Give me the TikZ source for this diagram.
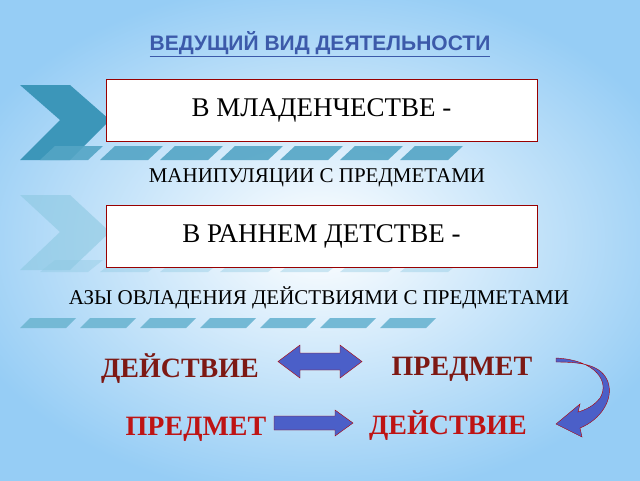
\documentclass[tikz,border=0pt]{standalone}
\usepackage{fontspec}
\setmainfont{Liberation Serif}
\newfontfamily\titlefont{Liberation Sans}
\usetikzlibrary{positioning}
\definecolor{skyblue}{RGB}{150,205,245}
\definecolor{teal1}{RGB}{60,150,185}
\definecolor{teal2}{RGB}{140,200,225}
\definecolor{darkred1}{RGB}{125,25,20}
\definecolor{red1}{RGB}{190,20,20}
\definecolor{arrowblue}{RGB}{75,95,200}
\definecolor{titleblue}{RGB}{60,90,170}

\begin{document}
\begin{tikzpicture}[x=1pt, y=-1pt,
	stagebox/.style={draw=red!60!black, fill=white, minimum width=431pt, minimum height=62pt, font=\fontsize{27}{29}\selectfont},
	phrase/.style={font=\fontsize{21}{23}\selectfont},
	keyword/.style={font=\bfseries\fontsize{28}{30}\selectfont},
	blockarrow/.style={draw=red!70!black, fill=arrowblue}]
	% background
	\useasboundingbox (0,0) rectangle (640,480);
	\clip (0,0) rectangle (640,480);
	\shade[inner color=white, outer color=skyblue] (-60,-20) rectangle (700,500);
	% chevrons and stripes
	\fill[teal1] (20,85) -- (70,85) -- (110,120) -- (70,160) -- (20,160) -- (60,120) -- cycle;
	\foreach \i in {0,...,6}
		\fill[teal1!70!teal2, opacity=0.9] (40+\i*60,160) -- (88+\i*60,160) -- (103+\i*60,146) -- (55+\i*60,146) -- cycle;
	\fill[teal2, opacity=0.6] (20,195) -- (70,195) -- (110,232) -- (70,270) -- (20,270) -- (60,232) -- cycle;
	\foreach \i in {0,...,6}
		\fill[teal2, opacity=0.4] (40+\i*60,272) -- (88+\i*60,272) -- (103+\i*60,260) -- (55+\i*60,260) -- cycle;
	\foreach \i in {0,...,6}
		\fill[teal2!70!teal1] (20+\i*60,328) -- (66+\i*60,328) -- (76+\i*60,318) -- (30+\i*60,318) -- cycle;
	% texts
	\node[font=\titlefont\bfseries\fontsize{21}{23}\selectfont, text=titleblue] (title) at (320,44) {\underline{ВЕДУЩИЙ ВИД ДЕЯТЕЛЬНОСТИ}};
	\node[stagebox] (infancy) at (321.5,110) {В МЛАДЕНЧЕСТВЕ -};
	\node[phrase] (manip) at (317,178) {МАНИПУЛЯЦИИ С ПРЕДМЕТАМИ};
	\node[stagebox] (early) at (321.5,236) {В РАННЕМ ДЕТСТВЕ -};
	\node[phrase] (basics) at (319,298) {АЗЫ ОВЛАДЕНИЯ ДЕЙСТВИЯМИ С ПРЕДМЕТАМИ};
	\node[keyword, text=darkred1] (action1) at (180,369) {ДЕЙСТВИЕ};
	\node[keyword, text=darkred1] (object1) at (462,369) {ПРЕДМЕТ};
	\node[keyword, text=red1] (object2) at (196,429) {ПРЕДМЕТ};
	\node[keyword, text=red1] (action2) at (448,426) {ДЕЙСТВИЕ};
	% arrows
	\filldraw[blockarrow] (278,361.5) -- (300,345) -- (300,353) -- (340,353) -- (340,345) -- (362,361.5)
		-- (340,378) -- (340,370) -- (300,370) -- (300,378) -- cycle;
	\filldraw[blockarrow] (274,416) -- (335,416) -- (335,410) -- (353,423) -- (335,436) -- (335,430) -- (274,430) -- cycle;
	\filldraw[blockarrow] (556,358) .. controls (596,360) and (610,382) .. (600,398)
		.. controls (594,406) and (585,410) .. (578,412) -- (580,404) -- (556,424) -- (582,437) -- (580,428)
		.. controls (600,420) and (614,400) .. (608,382) .. controls (602,366) and (585,362) .. (556,362) -- cycle;
\end{tikzpicture}
\end{document}
